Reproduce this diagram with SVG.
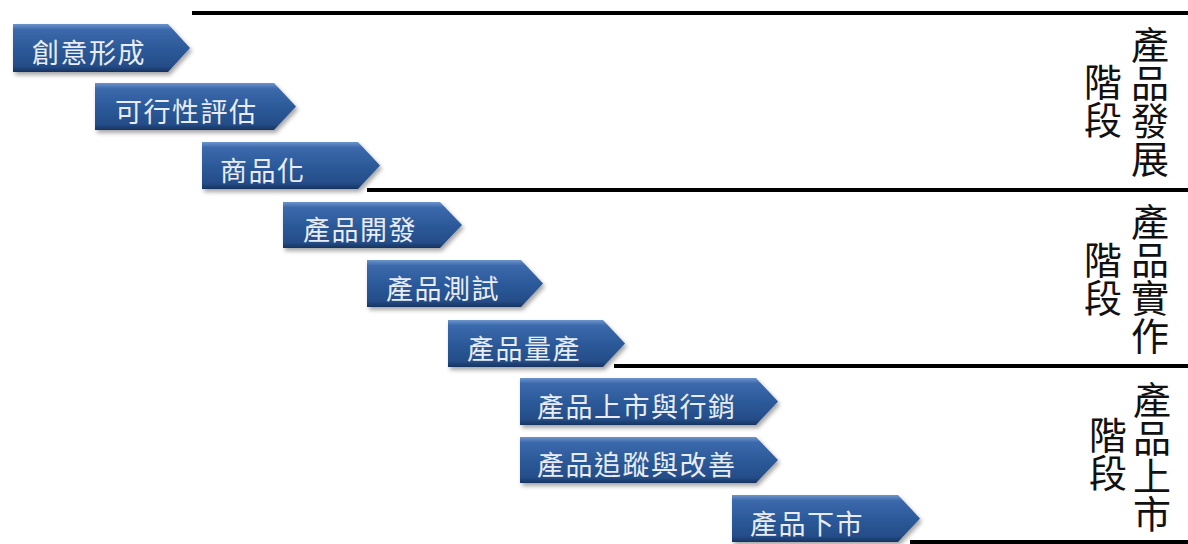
<svg xmlns="http://www.w3.org/2000/svg" width="1188" height="544" viewBox="0 0 1188 544">
<defs>
<linearGradient id="blue" x1="0" y1="0" x2="0" y2="1">
<stop offset="0" stop-color="#6d94cc"/>
<stop offset="0.12" stop-color="#3b69ab"/>
<stop offset="0.5" stop-color="#2c5a9a"/>
<stop offset="0.88" stop-color="#244d88"/>
<stop offset="1" stop-color="#17335e"/>
</linearGradient>
<filter id="sh" x="-5%" y="-10%" width="115%" height="140%">
<feDropShadow dx="2" dy="3" stdDeviation="2" flood-color="#000" flood-opacity="0.35"/>
</filter>
</defs>
<style>
.arr{fill:url(#blue);filter:url(#sh)}
.lbl{font-family:"Noto Sans CJK TC","Noto Sans CJK SC",sans-serif;font-size:27px;fill:#e9edf3;letter-spacing:1.5px}
.stage{font-family:"Noto Sans CJK TC","Noto Sans CJK SC",sans-serif;font-size:38px;fill:#111;writing-mode:vertical-rl}
.div{stroke:#000;stroke-width:4;fill:none}
</style>
<rect width="1188" height="544" fill="#fff"/>
<g id="dividers">
<line class="div" x1="192" y1="13" x2="1188" y2="13"/>
<line class="div" x1="367" y1="190" x2="1188" y2="190"/>
<line class="div" x1="614" y1="366" x2="1188" y2="366"/>
<line class="div" x1="910" y1="542" x2="1188" y2="542"/>
</g>
<g id="n1"><path class="arr" d="M13,24 H168 L190,48 L168,72 H13 Z"/><text class="lbl" x="32" y="63">創意形成</text></g>
<g id="n2"><path class="arr" d="M95,83 H274 L296,106.5 L274,130 H95 Z"/><text class="lbl" x="115" y="122">可行性評估</text></g>
<g id="n3"><path class="arr" d="M202,142 H358 L380,165.5 L358,189 H202 Z"/><text class="lbl" x="220" y="181">商品化</text></g>
<g id="n4"><path class="arr" d="M283,202 H440 L462,225 L440,248 H283 Z"/><text class="lbl" x="303" y="240">產品開發</text></g>
<g id="n5"><path class="arr" d="M367,260 H521 L543,283.5 L521,307 H367 Z"/><text class="lbl" x="386" y="299">產品測試</text></g>
<g id="n6"><path class="arr" d="M448,320 H603 L625,343.5 L603,367 H448 Z"/><text class="lbl" x="467" y="359">產品量產</text></g>
<g id="n7"><path class="arr" d="M520,378 H756 L778,401.5 L756,425 H520 Z"/><text class="lbl" x="537" y="417">產品上市與行銷</text></g>
<g id="n8"><path class="arr" d="M520,437 H756 L778,460 L756,483 H520 Z"/><text class="lbl" x="537" y="475">產品追蹤與改善</text></g>
<g id="n9"><path class="arr" d="M732,495 H898 L920,518.5 L898,542 H732 Z"/><text class="lbl" x="750" y="534">產品下市</text></g>
<g id="stage1">
<text class="stage" x="1150" y="26">產品發展</text>
<text class="stage" x="1103" y="63">階段</text>
</g>
<g id="stage2">
<text class="stage" x="1150" y="203">產品實作</text>
<text class="stage" x="1103" y="241">階段</text>
</g>
<g id="stage3">
<text class="stage" x="1152" y="381">產品上市</text>
<text class="stage" x="1108" y="416">階段</text>
</g>
</svg>
